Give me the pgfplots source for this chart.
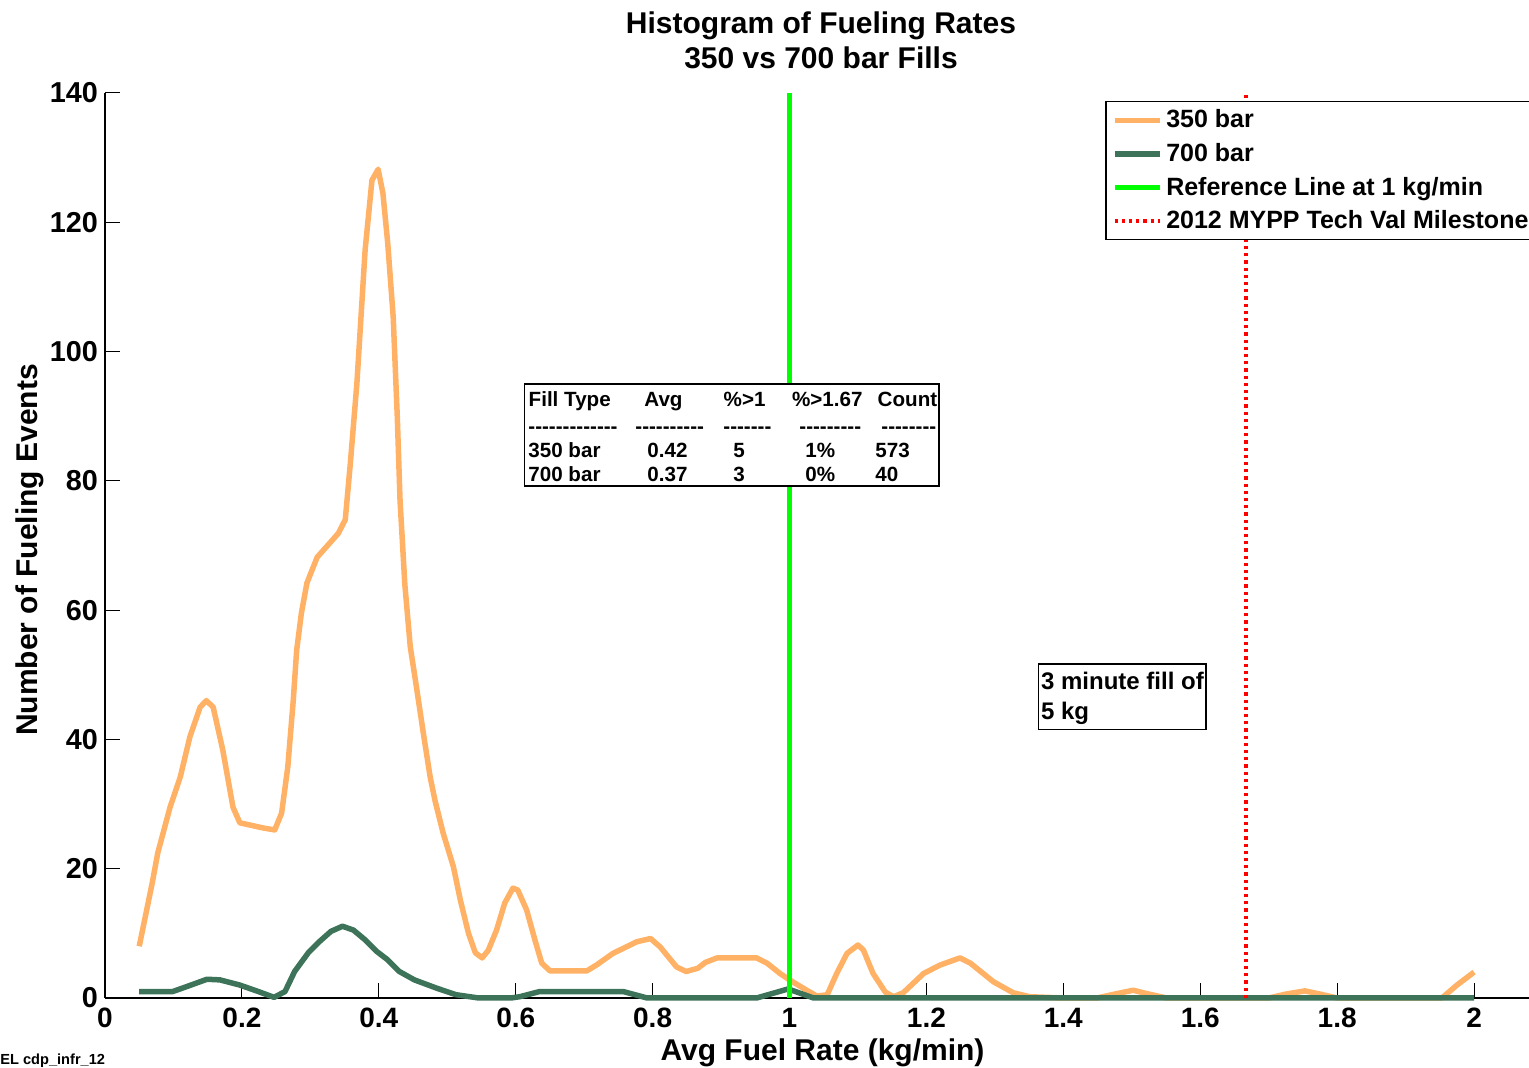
\documentclass[border=0pt]{standalone}
\usepackage{pgfplots}
\pgfplotsset{compat=1.18}
\usepackage{fontspec}
\setmainfont{Liberation Sans}
\definecolor{c350}{RGB}{255,178,102}
\definecolor{c700}{RGB}{61,115,88}
\definecolor{refgreen}{RGB}{0,255,0}
\newcommand\fs[1]{\fontsize{#1}{#1}\selectfont\bfseries}
\begin{document}
\begin{tikzpicture}
\path[use as bounding box] (-52.5pt,-35pt) rectangle (712pt,499pt);
\begin{axis}[
  at={(0,0)}, anchor=south west,
  scale only axis, width=712pt, height=452.5pt,
  xmin=0, xmax=2.0803, ymin=0, ymax=140,
  axis x line=bottom, axis y line=left,
  axis line style={-, line width=0.75pt, black},
  tick align=inside, major tick length=7.5pt,
  every tick/.style={black, line width=0.5pt},
  xtick={0,0.2,0.4,0.6,0.8,1,1.2,1.4,1.6,1.8,2},
  ytick={0,20,40,60,80,100,120,140},
  /pgf/number format/assume math mode=true,
  xticklabel style={font=\fs{14}, inner sep=0pt, anchor=north, yshift=-5pt},
  yticklabel style={font=\fs{14.4}, inner sep=0pt, anchor=east, xshift=-3.3pt},
  clip=false,
  legend style={at={(0.70225,0.99116)}, anchor=north west, draw=black, line width=0.75pt,
    fill=white, font=\fs{12.5}, inner xsep=3pt, inner ysep=2pt, row sep=2.25pt},
  legend cell align=left,
  legend image code/.code={\draw[#1] (0pt,0pt) -- (22.5pt,0pt);},
]
\addplot[c350, line width=2.75pt, line join=round] coordinates {
(0.05,8) (0.069,17.8) (0.077,22.4) (0.095,29.5) (0.11,34.2) (0.124,40.4) (0.139,45)
(0.148,46) (0.158,45) (0.172,38.4) (0.187,29.5) (0.197,27.1) (0.231,26.3) (0.248,26)
(0.258,28.6) (0.267,35.7) (0.275,46) (0.280,53.8) (0.287,59.6) (0.295,64.2) (0.310,68.2)
(0.326,70.1) (0.341,71.9) (0.351,74) (0.358,82.2) (0.368,95.1) (0.380,115.7) (0.390,126.5)
(0.399,128.2) (0.406,124.5) (0.413,116.8) (0.421,105.4) (0.427,89.9) (0.431,77) (0.438,64)
(0.446,54.3) (0.455,48.1) (0.465,41) (0.475,34.2) (0.482,30.6) (0.494,25.5) (0.509,20.3)
(0.519,15.2) (0.531,10) (0.541,7) (0.551,6.2) (0.560,7.4) (0.572,10.5) (0.584,14.7)
(0.596,17) (0.603,16.7) (0.616,13.6) (0.628,9) (0.638,5.4) (0.650,4.2) (0.704,4.2)
(0.718,5.1) (0.742,6.9) (0.777,8.7) (0.797,9.2) (0.811,7.9) (0.835,4.8) (0.849,4.1)
(0.866,4.6) (0.877,5.5) (0.894,6.2) (0.952,6.2) (0.967,5.4) (0.986,3.8) (1.0,2.8)
(1.025,1.2) (1.04,0.3) (1.055,0.5) (1.069,3.8) (1.084,6.9) (1.1,8.2) (1.108,7.4)
(1.122,3.8) (1.14,0.9) (1.152,0.2) (1.166,0.8) (1.196,3.8) (1.22,5.1) (1.249,6.2)
(1.264,5.4) (1.298,2.5) (1.327,0.8) (1.351,0.2) (1.4,0) (1.449,0) (1.475,0.6)
(1.502,1.2) (1.525,0.6) (1.551,0) (1.7,0) (1.725,0.6) (1.753,1.1) (1.775,0.6) (1.8,0)
(1.953,0) (1.975,2) (2.0,4)};
\addlegendentry{350 bar}
\addplot[c700, line width=2.75pt, line join=round] coordinates {
(0.05,1) (0.099,1) (0.119,1.75) (0.149,2.9) (0.168,2.8) (0.197,2.0) (0.224,1) (0.247,0.1)
(0.263,1) (0.277,4.1) (0.297,7) (0.313,8.7) (0.33,10.3) (0.347,11.1) (0.363,10.5)
(0.38,9) (0.397,7.2) (0.413,5.9) (0.43,4.1) (0.452,2.8) (0.485,1.5) (0.513,0.5)
(0.546,0) (0.593,0) (0.606,0.2) (0.635,1) (0.757,1) (0.792,0) (0.952,0) (0.998,1.4)
(1.035,0) (2.0,0)};
\addlegendentry{700 bar}
\addplot[refgreen, line width=2.5pt] coordinates {(1,0) (1,140)};
\addlegendentry{Reference Line at 1 kg/min}
\addplot[red, line width=2.2pt, dash pattern=on 1.6pt off 2pt] coordinates {(1.6667,0) (1.6667,140)};
\addlegendentry{2012 MYPP Tech Val Milestone}
\end{axis}
% titles and labels
\node[anchor=base, font=\fs{15}] at (358pt,482.35pt) {Histogram of Fueling Rates};
\node[anchor=base, font=\fs{15}] at (358pt,464.85pt) {350 vs 700 bar Fills};
\node[anchor=base, rotate=90, font=\fs{15}] at (-34pt,224pt) {Number of Fueling Events};
\node[anchor=base, font=\fs{15}] at (358.75pt,-31.5pt) {Avg Fuel Rate (kg/min)};
\node[anchor=base west, inner sep=0pt, font=\fs{7.3}] at (-52.5pt,-33.5pt) {EL cdp\_infr\_12};
% statistics table
\draw[black, line width=0.6pt, fill=white] (209.85pt,307pt) rectangle (417pt,256pt);
\begin{scope}[every node/.style={anchor=base west, inner sep=0pt, font=\fs{10.3}}]
\node at (211.65pt,295.65pt) {Fill Type};
\node at (269.5pt,295.65pt) {Avg};
\node at (309.15pt,295.65pt) {\%>1};
\node at (343.35pt,295.65pt) {\%>1.67};
\node at (386.15pt,295.65pt) {Count};
\node at (211.5pt,282pt) {-{}-{}-{}-{}-{}-{}-{}-{}-{}-{}-{}-{}-};
\node at (265pt,282pt) {-{}-{}-{}-{}-{}-{}-{}-{}-{}-};
\node at (309pt,282pt) {-{}-{}-{}-{}-{}-{}-};
\node at (347pt,282pt) {-{}-{}-{}-{}-{}-{}-{}-{}-};
\node at (388pt,282pt) {-{}-{}-{}-{}-{}-{}-{}-};
\node at (211.5pt,270.35pt) {350 bar};
\node at (271pt,270.35pt) {0.42};
\node at (314pt,270.35pt) {5};
\node at (350pt,270.35pt) {1\%};
\node at (385pt,270.35pt) {573};
\node at (211.5pt,258.15pt) {700 bar};
\node at (271pt,258.15pt) {0.37};
\node at (314pt,258.15pt) {3};
\node at (350pt,258.15pt) {0\%};
\node at (385pt,258.15pt) {40};
\end{scope}
% milestone note
\draw[black, line width=0.6pt, fill=white] (466.65pt,167pt) rectangle (550.5pt,134.35pt);
\node[anchor=base west, inner sep=0pt, font=\fs{12}] at (467.85pt,154pt) {3 minute fill of};
\node[anchor=base west, inner sep=0pt, font=\fs{12}] at (467.85pt,139pt) {5 kg};
\end{tikzpicture}
\end{document}
